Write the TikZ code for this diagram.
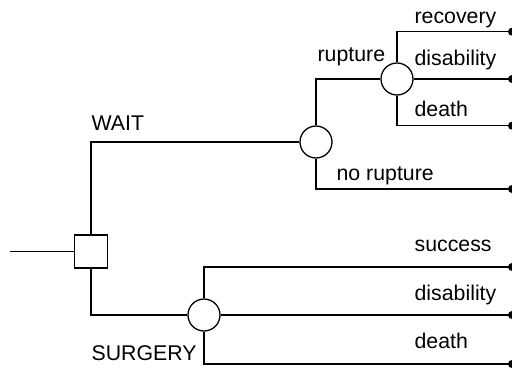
\documentclass[tikz,border=0pt]{standalone}
\usepackage{fontspec}
\setmainfont{Liberation Sans}
\begin{document}
\begin{tikzpicture}[x=1pt,y=-1pt,line width=1.3pt,
  chance/.style={draw,circle,minimum size=32pt,inner sep=0pt,fill=white},
  decision/.style={draw,rectangle,minimum size=33pt,inner sep=0pt,fill=white},
  lbl/.style={anchor=base west,inner sep=0pt,font=\fontsize{21.3pt}{25pt}\selectfont},
  enddot/.style={fill,circle,minimum size=8pt,inner sep=0pt}]
\useasboundingbox (0,0) rectangle (512,370);
\coordinate (start) at (10,251.5);
\node[decision] (D) at (91,251.5) {};
\node[chance] (W) at (316,142) {};
\node[chance] (R) at (397,79) {};
\node[chance] (S) at (204,315) {};
\node[enddot] (e1) at (512,31.7) {};
\node[enddot] (e2) at (512,79) {};
\node[enddot] (e3) at (512,125.7) {};
\node[enddot] (e4) at (512,189) {};
\node[enddot] (e5) at (512,267) {};
\node[enddot] (e6) at (512,315) {};
\node[enddot] (e7) at (512,364) {};
\draw (start) -- (D.west);
\draw (D.north) |- (W.west);
\draw (D.south) |- (S.west);
\draw (W.north) |- (R.west);
\draw (W.south) |- (e4.center);
\draw (R.north) |- (e1.center);
\draw (R.east) -- (e2.center);
\draw (R.south) |- (e3.center);
\draw (S.north) |- (e5.center);
\draw (S.east) -- (e6.center);
\draw (S.south) |- (e7.center);
\node[lbl] (tw) at (91,130) {WAIT};
\node[lbl] (ts) at (91,360) {SURGERY};
\node[lbl] (tr) at (317,61.5) {rupture};
\node[lbl] (tnr) at (336,180) {no rupture};
\node[lbl] (t1) at (414,23) {recovery};
\node[lbl] (t2) at (414,65) {disability};
\node[lbl] (t3) at (414,116.5) {death};
\node[lbl] (t5) at (414,251.5) {success};
\node[lbl] (t6) at (414,300) {disability};
\node[lbl] (t7) at (414,348) {death};
\end{tikzpicture}
\end{document}
